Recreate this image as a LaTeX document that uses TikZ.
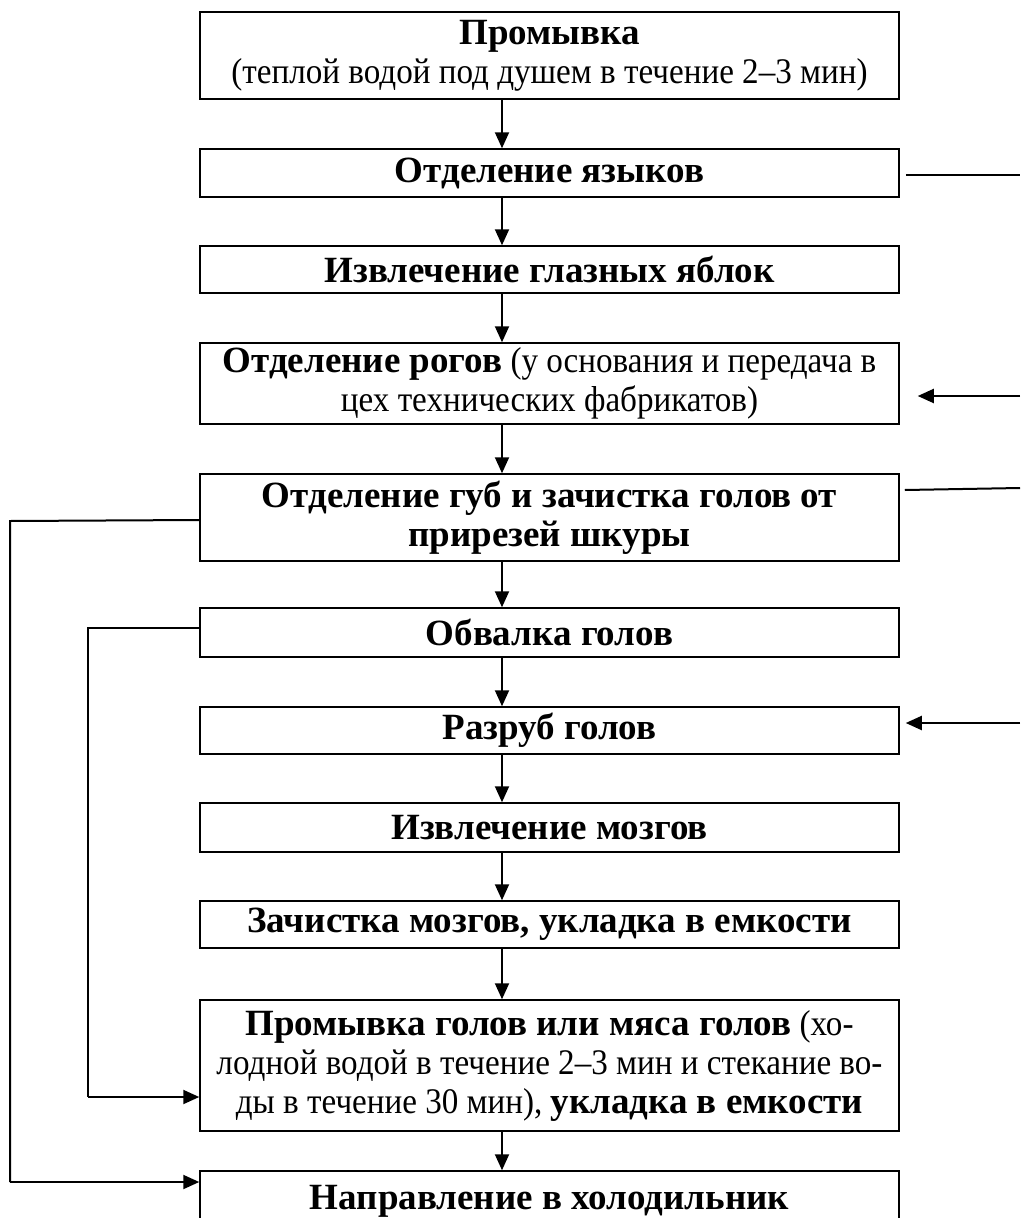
\documentclass[tikz,border=0pt]{standalone}
\usepackage{fontspec}
\setmainfont{Liberation Serif}[UprightFeatures={FakeStretch=0.92}]
\usetikzlibrary{arrows.meta}
\newcommand\hb[1]{{\fontsize{37}{40}\selectfont\bfseries #1}}
\begin{document}
\begin{tikzpicture}[x=1pt,y=-1pt,
  box/.style={draw, line width=1.5pt, minimum width=699pt, inner sep=0pt, align=center, font=\fontsize{36}{39}\selectfont},
  arr/.style={line width=2pt, -{Triangle[length=16pt,width=14pt]}},
  ln/.style={line width=2pt}]
\useasboundingbox (0,0) rectangle (1020,1218);
\clip (0,0) rectangle (1020,1218);
\coordinate (axis) at (502,0);

\node[box, minimum height=87pt] (b1) at (549.5,55.5) {\hb{Промывка}\\(теплой водой под душем в течение 2–3 мин)};
\node[box, minimum height=48pt] (b2) at (549.5,173) {\hb{Отделение языков}};
\node[box, minimum height=47pt] (b3) at (549.5,269.5) {\hb{Извлечение глазных яблок}};
\node[box, minimum height=81pt] (b4) at (549.5,383.5) {\hb{Отделение рогов} (у основания и передача в\\цех технических фабрикатов)};
\node[box, minimum height=87pt] (b5) at (549.5,517.5) {\hb{Отделение губ и зачистка голов от}\\\hb{прирезей шкуры}};
\node[box, minimum height=49pt] (b6) at (549.5,632.5) {\hb{Обвалка голов}};
\node[box, minimum height=47pt] (b7) at (549.5,730.5) {\hb{Разруб голов}};
\node[box, minimum height=49pt] (b8) at (549.5,827.5) {\hb{Извлечение мозгов}};
\node[box, minimum height=47pt] (b9) at (549.5,924.5) {\hb{Зачистка мозгов, укладка в емкости}};
\node[box, minimum height=131pt] (b10) at (549.5,1065.5) {\hb{Промывка голов или мяса голов} (хо-\\лодной водой в течение 2–3 мин и стекание во-\\ды в течение 30 мин), \hb{укладка в емкости}};
\node[box, minimum height=60pt] (b11) at (549.5,1201) {\hb{Направление в холодильник}};

\draw[arr] (b1.south -| axis) -- (b2.north -| axis);
\draw[arr] (b2.south -| axis) -- (b3.north -| axis);
\draw[arr] (b3.south -| axis) -- (b4.north -| axis);
\draw[arr] (b4.south -| axis) -- (b5.north -| axis);
\draw[arr] (b5.south -| axis) -- (b6.north -| axis);
\draw[arr] (b6.south -| axis) -- (b7.north -| axis);
\draw[arr] (b7.south -| axis) -- (b8.north -| axis);
\draw[arr] (b8.south -| axis) -- (b9.north -| axis);
\draw[arr] (b9.south -| axis) -- (b10.north -| axis);
\draw[arr] (b10.south -| axis) -- (b11.north -| axis);

% right side
\coordinate (r2) at (1020,175);
\coordinate (r4) at (1020,396);
\coordinate (r5) at (1020,488);
\coordinate (r7) at (1020,723);
\draw[ln] ([xshift=6pt]b2.east |- r2) -- (r2);
\draw[arr] (r4) -- ([xshift=18pt]b4.east |- r4);
\draw[ln] ([xshift=5pt,yshift=-2pt]b5.east |- r5) -- (r5);
\draw[arr] (r7) -- ([xshift=6pt]b7.east |- r7);

% left side
\coordinate (l5) at (10,521);
\coordinate (l6) at (88,628);
\coordinate (l10) at (88,1097);
\coordinate (l11) at (10,1182);
\draw[ln] (b5.west |- 0,520) -- (l5) -- (l11);
\draw[arr] (l11) -- (b11.west |- l11);
\draw[ln] (b6.west |- l6) -- (l6) -- (l10);
\draw[arr] (l10) -- (b10.west |- l10);
\end{tikzpicture}
\end{document}
